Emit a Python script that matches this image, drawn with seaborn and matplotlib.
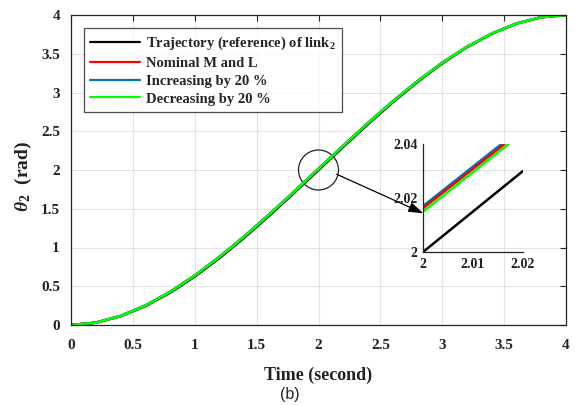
import numpy as np
import pandas as pd
import matplotlib
matplotlib.use("Agg")
import matplotlib.pyplot as plt
from matplotlib.patches import Ellipse
import seaborn as sns

# ---- data ----
time = [0.0, 0.2, 0.4, 0.6, 0.8, 1.0, 1.2, 1.4, 1.6, 1.8, 2.0,
        2.2, 2.4, 2.6, 2.8, 3.0, 3.2, 3.4, 3.6, 3.8, 4.0]
reference = [0.0, 0.029, 0.112, 0.243, 0.416, 0.625, 0.864, 1.127, 1.408, 1.701, 2.0,
             2.299, 2.592, 2.873, 3.136, 3.375, 3.584, 3.757, 3.888, 3.971, 4.0]
nominal = [0.0, 0.031, 0.117, 0.251, 0.427, 0.638, 0.879, 1.143, 1.424, 1.717, 2.016,
           2.314, 2.606, 2.886, 3.147, 3.384, 3.590, 3.761, 3.890, 3.972, 4.0]
increasing = [0.0, 0.031, 0.118, 0.252, 0.428, 0.639, 0.880, 1.144, 1.425, 1.718, 2.017,
              2.315, 2.607, 2.887, 3.148, 3.385, 3.591, 3.761, 3.890, 3.972, 4.0]
decreasing = [0.0, 0.030, 0.116, 0.250, 0.426, 0.637, 0.878, 1.142, 1.423, 1.716, 2.015,
              2.313, 2.605, 2.885, 3.146, 3.383, 3.589, 3.760, 3.889, 3.972, 4.0]

# zoomed inset values
inset_ref_t = [2.0, 2.02]
inset_ref = [2.0, 2.03]
inset_nom_t = [2.0, 2.0163]
inset_nom = [2.0162, 2.04]
inset_inc_t = [2.0, 2.0157]
inset_inc = [2.017, 2.04]
inset_dec_t = [2.0, 2.0171]
inset_dec = [2.0149, 2.04]

labels = ["Trajectory (reference) of link$_2$", "Nominal M and L",
          "Increasing by 20 %", "Decreasing by 20 %"]
colors = ["#000000", "#ff0000", "#0072bd", "#00ff00"]
x_ticks = [0, 0.5, 1, 1.5, 2, 2.5, 3, 3.5, 4]
y_ticks = [0, 0.5, 1, 1.5, 2, 2.5, 3, 3.5, 4]

# ---- style ----
sns.set_style("whitegrid")
serif = "Liberation Serif"
plt.rcParams["font.family"] = [serif, "DejaVu Serif"]
plt.rcParams["mathtext.fontset"] = "custom"
plt.rcParams["mathtext.rm"] = "Liberation Serif:bold"
plt.rcParams["mathtext.it"] = "Liberation Serif:italic:bold"
plt.rcParams["mathtext.bf"] = "Liberation Serif:bold"

fig = plt.figure(figsize=(5.79, 4.05), dpi=100)
ax = fig.add_axes([71 / 579, 80 / 405, 495 / 579, 310 / 405])

main = pd.concat([
    pd.DataFrame({"t": time, "v": reference, "s": labels[0]}),
    pd.DataFrame({"t": time, "v": nominal, "s": labels[1]}),
    pd.DataFrame({"t": time, "v": increasing, "s": labels[2]}),
    pd.DataFrame({"t": time, "v": decreasing, "s": labels[3]}),
])
sns.lineplot(data=main, x="t", y="v", hue="s", palette=dict(zip(labels, colors)),
             linewidth=1.8, ax=ax, sort=False)

ax.set_xlim(0, 4)
ax.set_ylim(0, 4)
ax.set_xticks(x_ticks)
ax.set_yticks(y_ticks)
ax.set_xticklabels([f"{v:g}" for v in x_ticks], fontweight="bold", fontsize=11)
ax.set_yticklabels([f"{v:g}" for v in y_ticks], fontweight="bold", fontsize=11)
ax.tick_params(direction="in", length=4, width=0.8, colors="#222222",
               top=True, right=True, labelcolor="#222222")
ax.tick_params(axis="x", pad=10)
ax.tick_params(axis="y", pad=8)
ax.grid(True, color="#e3e3e3", linewidth=0.8)
for sp in ax.spines.values():
    sp.set_color("#222222")
    sp.set_linewidth(0.9)
    sp.set_visible(True)

ax.set_xlabel("Time (second)", fontsize=13, fontweight="bold", color="#222222")
ax.set_ylabel(r"$\theta_2\ \ $(rad)", fontsize=14, fontweight="bold", color="#222222")
ax.xaxis.set_label_coords(0.5, -0.135)
ax.yaxis.set_label_coords(-0.074, 0.48)

leg = ax.legend(loc="upper left", bbox_to_anchor=(0.026, 0.958), borderaxespad=0,
                frameon=True, fancybox=False, handlelength=3.4, labelspacing=0.32,
                prop={"weight": "bold", "size": 10.5, "family": serif},
                borderpad=0.45, handletextpad=0.4)
leg.get_frame().set_edgecolor("#222222")
leg.get_frame().set_linewidth(0.9)
for line in leg.get_lines():
    line.set_linewidth(1.6)

# circle and arrow
ax.add_patch(Ellipse((2.0, 2.0), 0.323, 0.516, fill=False, edgecolor="#222222", linewidth=0.9))
ax.annotate("", xy=(2.847, 1.441), xytext=(2.147, 1.945),
            arrowprops=dict(arrowstyle="-|>,head_length=0.9,head_width=0.3",
                            color="black", linewidth=0.9, shrinkA=0, shrinkB=0))

# inset
ins = fig.add_axes([423 / 579, 153 / 405, 100 / 579, 108 / 405])
ins.patch.set_alpha(0)
inset = pd.concat([
    pd.DataFrame({"t": inset_ref_t, "v": inset_ref, "s": labels[0]}),
    pd.DataFrame({"t": inset_inc_t, "v": inset_inc, "s": labels[2]}),
    pd.DataFrame({"t": inset_nom_t, "v": inset_nom, "s": labels[1]}),
    pd.DataFrame({"t": inset_dec_t, "v": inset_dec, "s": labels[3]}),
])
sns.lineplot(data=inset, x="t", y="v", hue="s", palette=dict(zip(labels, colors)),
             linewidth=1.8, ax=ins, legend=False, sort=False)
ins.set_xlim(2, 2.02)
ins.set_ylim(2, 2.04)
ins.set_xticks([2, 2.01, 2.02])
ins.set_yticks([2, 2.02, 2.04])
ins.set_xticklabels(["2", "2.01", "2.02"], fontweight="bold", fontsize=10)
ins.set_yticklabels(["2", "2.02", "2.04"], fontweight="bold", fontsize=10)
ins.grid(False)
ins.set_xlabel("")
ins.set_ylabel("")
ins.spines["top"].set_visible(False)
ins.spines["right"].set_visible(False)
for s in ["left", "bottom"]:
    ins.spines[s].set_color("#222222")
    ins.spines[s].set_linewidth(0.9)
ins.tick_params(direction="in", length=3, width=0.8, colors="#222222", pad=4)

fig.text(0.5, 1 - 395 / 405, "(b)", family="Liberation Sans", fontsize=11.5,
         ha="center", va="center", color="#222222")

fig.savefig("out.png", dpi=100)
